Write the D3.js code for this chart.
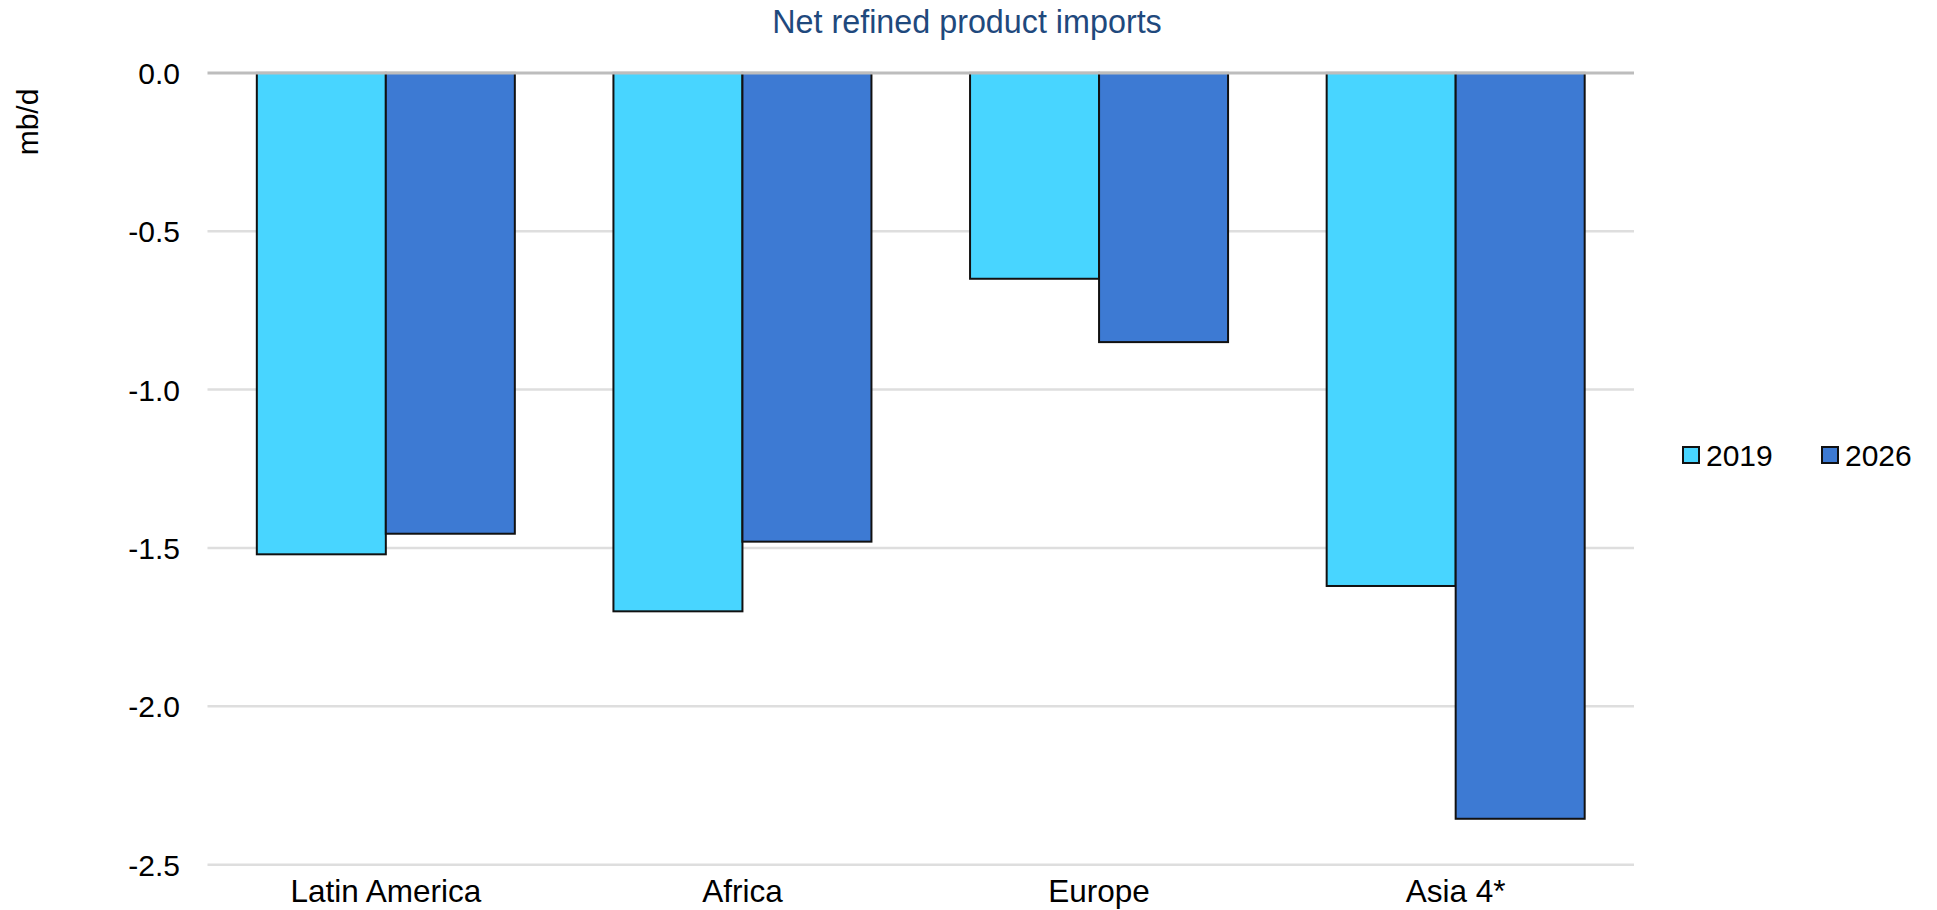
<!DOCTYPE html>
<html>
<head>
<meta charset="utf-8">
<script src="https://cdn.jsdelivr.net/npm/d3@7/dist/d3.min.js"></script>
<style>
  html, body { margin: 0; padding: 0; background: #fff; }
  text { font-family: "Liberation Sans", Arial, sans-serif; }
</style>
</head>
<body>
<svg id="chart" width="1937" height="910"></svg>
<script>
const categories = ["Latin America", "Africa", "Europe", "Asia 4*"];
const seriesNames = ["2019", "2026"];
const values2019 = [-1.52, -1.70, -0.65, -1.62];
const values2026 = [-1.455, -1.48, -0.85, -2.355];
const yTicks = [0.0, -0.5, -1.0, -1.5, -2.0, -2.5];
const yTickLabels = ["0.0", "-0.5", "-1.0", "-1.5", "-2.0", "-2.5"];
const colors = ["#48D5FF", "#3D7AD3"];
const titleText = "Net refined product imports";
const yLabel = "mb/d";

(function () {
const svg = d3.select("#chart");
const pLeft = 207.5, pRight = 1634, pTop = 72.9, pBottom = 864.7;

const x = d3.scaleBand().domain(categories).range([pLeft, pRight]).paddingInner(0.2765).paddingOuter(0.1383);
const xs = d3.scaleBand().domain(seriesNames).range([0, x.bandwidth()]).padding(0);
const y = d3.scaleLinear().domain([0, -2.5]).range([pTop, pBottom]);

// gridlines
svg.append("g").selectAll("line").data(yTicks.filter(d => d !== 0)).join("line")
  .attr("x1", pLeft).attr("x2", pRight)
  .attr("y1", d => y(d)).attr("y2", d => y(d))
  .attr("stroke", "#dedede").attr("stroke-width", 2.5);

// y axis labels
const yAxis = d3.axisLeft(y).tickValues(yTicks)
  .tickFormat((d, i) => yTickLabels[i]).tickSize(0).tickPadding(0);
const ya = svg.append("g").attr("transform", `translate(${180},0)`).call(yAxis);
ya.select(".domain").remove();
ya.selectAll("text").attr("font-size", 30).attr("fill", "#000")
  .attr("font-family", "Liberation Sans, Arial, sans-serif").attr("dy", "0.35em");

// bars
const data = [];
categories.forEach((c, i) => {
  data.push({cat: c, s: "2019", v: values2019[i], color: colors[0]});
  data.push({cat: c, s: "2026", v: values2026[i], color: colors[1]});
});
svg.append("g").selectAll("rect").data(data).join("rect")
  .attr("x", d => x(d.cat) + xs(d.s))
  .attr("y", d => y(0))
  .attr("width", xs.bandwidth())
  .attr("height", d => y(d.v) - y(0))
  .attr("fill", d => d.color)
  .attr("stroke", "#111").attr("stroke-width", 2);

// zero line
svg.append("line").attr("x1", pLeft).attr("x2", pRight)
  .attr("y1", y(0)).attr("y2", y(0))
  .attr("stroke", "#bdbdbd").attr("stroke-width", 3);

// x axis labels
const xAxis = d3.axisBottom(x).tickSize(0).tickPadding(0);
const xa = svg.append("g").attr("transform", `translate(0,${902})`).call(xAxis);
xa.select(".domain").remove();
xa.selectAll("text").attr("font-size", 31.5).attr("fill", "#000")
  .attr("font-family", "Liberation Sans, Arial, sans-serif").attr("dy", "0");

// title
svg.append("text").attr("x", 967).attr("y", 33).attr("text-anchor", "middle")
  .attr("font-size", 32.3).attr("fill", "#1F497D").text(titleText);

// y label
svg.append("text").attr("transform", "translate(38,122) rotate(-90)")
  .attr("text-anchor", "middle").attr("font-size", 30).attr("fill", "#000").text(yLabel);

// legend
const legX = [1683, 1822];
const lg = svg.append("g").selectAll("g").data(seriesNames).join("g")
  .attr("transform", (d, i) => `translate(${legX[i]},447)`);
lg.append("rect").attr("width", 16).attr("height", 16)
  .attr("fill", (d, i) => colors[i]).attr("stroke", "#111").attr("stroke-width", 2);
lg.append("text").attr("x", 23).attr("y", 8).attr("dy", "0.35em")
  .attr("font-size", 30).attr("fill", "#000").text(d => d);
})();
</script>
</body>
</html>
